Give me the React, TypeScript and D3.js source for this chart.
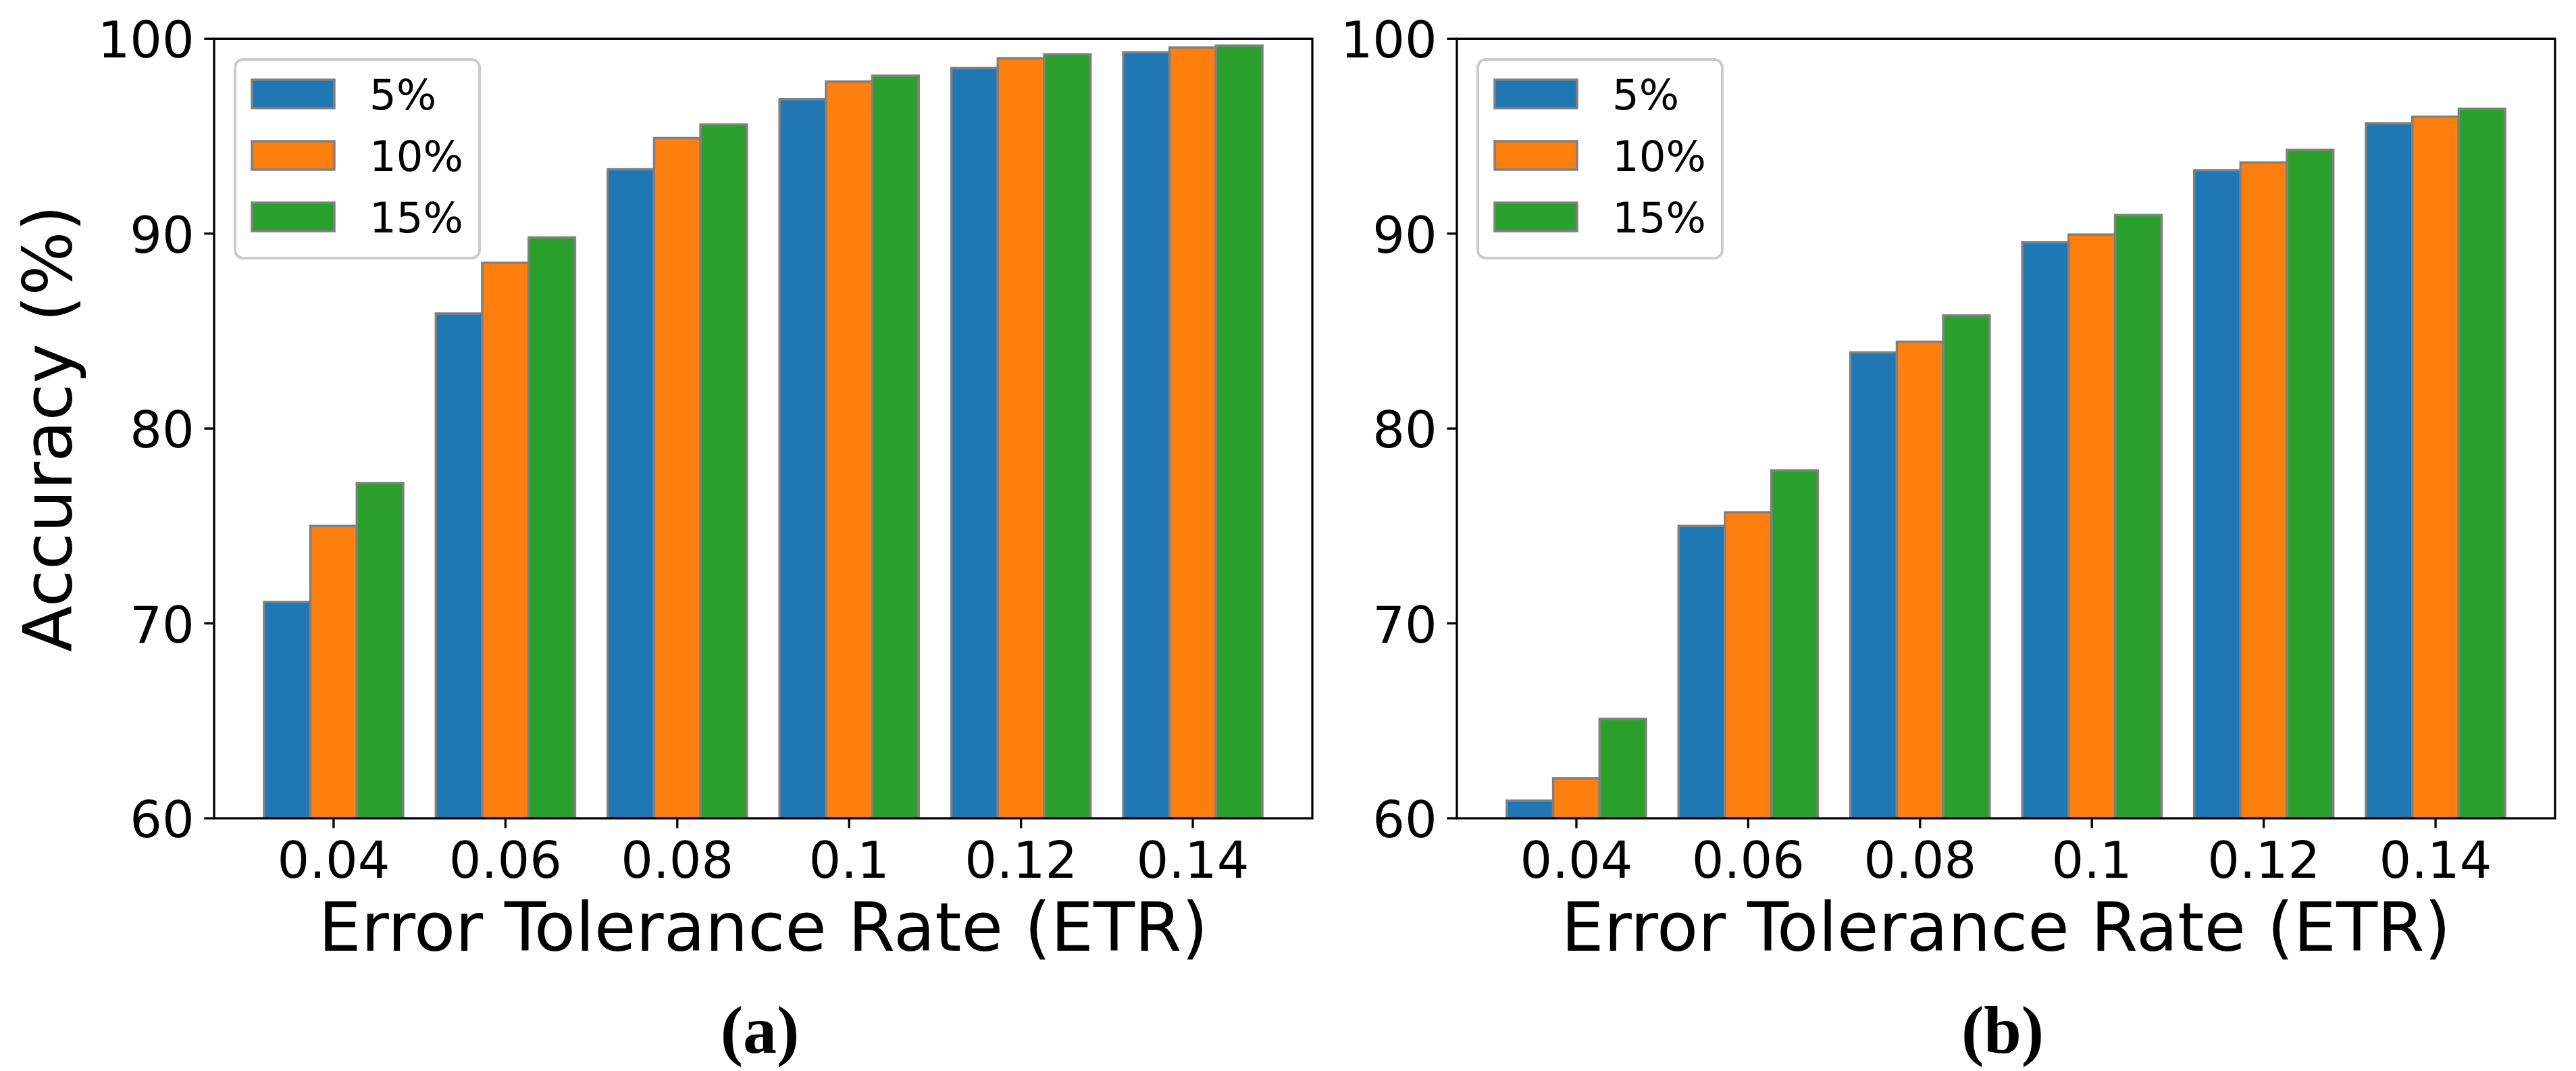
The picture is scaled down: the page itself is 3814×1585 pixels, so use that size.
import React from "react";
import * as d3 from "d3";

const categories = ["0.04", "0.06", "0.08", "0.1", "0.12", "0.14"];
const seriesLabels = ["5%", "10%", "15%"];
const seriesColors = ["#1f77b4", "#ff7f0e", "#2ca02c"];
const yTicks = [60, 70, 80, 90, 100];

const panelA_5 = [71.1, 85.9, 93.3, 96.9, 98.5, 99.3];
const panelA_10 = [75.0, 88.5, 94.9, 97.8, 99.0, 99.55];
const panelA_15 = [77.2, 89.8, 95.6, 98.1, 99.2, 99.65];

const panelB_5 = [60.9, 75.0, 83.9, 89.55, 93.25, 95.65];
const panelB_10 = [62.05, 75.7, 84.45, 89.95, 93.65, 96.0];
const panelB_15 = [65.1, 77.85, 85.8, 90.95, 94.3, 96.4];

const panelTags = ["(a)", "(b)"];
const xLabel = "Error Tolerance Rate (ETR)";
const yLabel = "Accuracy (%)";

const W = 3814;
const H = 1585;
const TOP = 57.3;
const BOTTOM = 1211;
const BAR_W = 0.27;
const TICK_FONT = 75;
const LABEL_FONT = 100;
const LEGEND_FONT = 62.5;
const SANS = "'DejaVu Sans', sans-serif";
const LW = 3.3;
const TICK_LEN = 14.6;

function Panel({ left, right, data, idx, showYLabel }: any) {
  const lo = -1.5 * BAR_W;
  const hi = categories.length - 1 + 1.5 * BAR_W;
  const pad = 0.05 * (hi - lo);
  const x = d3.scaleLinear().domain([lo - pad, hi + pad]).range([left, right]);
  const y = d3.scaleLinear().domain([60, 100]).range([BOTTOM, TOP]);
  const clipId = `clip-${idx}`;
  const cx = (left + right) / 2;
  const legX = left + 31;
  const legY = 88;
  return (
    <g>
      <defs>
        <clipPath id={clipId}>
          <rect x={left} y={TOP} width={right - left} height={BOTTOM - TOP} />
        </clipPath>
      </defs>
      <g clipPath={`url(#${clipId})`}>
        {data.map((vals: number[], j: number) =>
          vals.map((v, i) => {
            const x0 = x(i + (j - 1) * BAR_W - BAR_W / 2);
            const x1 = x(i + (j - 1) * BAR_W + BAR_W / 2);
            return (
              <rect
                key={`${j}-${i}`}
                x={x0}
                y={y(v)}
                width={x1 - x0}
                height={BOTTOM + 10 - y(v)}
                fill={seriesColors[j]}
                stroke="#808080"
                strokeWidth={3.5}
              />
            );
          })
        )}
      </g>
      {/* spines */}
      <rect x={left} y={TOP} width={right - left} height={BOTTOM - TOP} fill="none" stroke="#000" strokeWidth={LW} />
      {/* y ticks */}
      {yTicks.map((t) => (
        <g key={t}>
          <line x1={left - TICK_LEN} x2={left} y1={y(t)} y2={y(t)} stroke="#000" strokeWidth={LW} />
          <text x={left - TICK_LEN - 14.6} y={y(t) + 28} textAnchor="end" fontFamily={SANS} fontSize={TICK_FONT}>
            {t}
          </text>
        </g>
      ))}
      {/* x ticks */}
      {categories.map((c, i) => (
        <g key={c}>
          <line x1={x(i)} x2={x(i)} y1={BOTTOM} y2={BOTTOM + TICK_LEN} stroke="#000" strokeWidth={LW} />
          <text x={x(i)} y={BOTTOM + 88} textAnchor="middle" fontFamily={SANS} fontSize={TICK_FONT}>
            {c}
          </text>
        </g>
      ))}
      <text x={cx} y={1407} textAnchor="middle" fontFamily={SANS} fontSize={LABEL_FONT}>
        {xLabel}
      </text>
      {showYLabel && (
        <text
          transform={`translate(106, ${(TOP + BOTTOM) / 2}) rotate(-90)`}
          textAnchor="middle"
          fontFamily={SANS}
          fontSize={LABEL_FONT}
        >
          {yLabel}
        </text>
      )}
      <text
        x={cx - 5}
        y={1558}
        textAnchor="middle"
        fontFamily="'Liberation Serif', 'Times New Roman', serif"
        fontWeight="bold"
        fontSize={100}
      >
        {panelTags[idx]}
      </text>
      {/* legend */}
      <g>
        <rect
          x={legX}
          y={legY}
          width={362}
          height={294}
          rx={12}
          ry={12}
          fill="#fff"
          fillOpacity={0.8}
          stroke="#cccccc"
          strokeWidth={4}
        />
        {seriesLabels.map((s, j) => {
          const rowC = 139 + j * 91;
          return (
            <g key={s}>
              <rect
                x={legX + 25}
                y={rowC - 21}
                width={122}
                height={42}
                fill={seriesColors[j]}
                stroke="#808080"
                strokeWidth={3.5}
              />
              <text x={legX + 199} y={rowC + 22.5} fontFamily={SANS} fontSize={LEGEND_FONT}>
                {s}
              </text>
            </g>
          );
        })}
      </g>
    </g>
  );
}

export default function App() {
  const panels = [
    { left: 317, right: 1943, data: [panelA_5, panelA_10, panelA_15] },
    { left: 2157, right: 3783, data: [panelB_5, panelB_10, panelB_15] },
  ];
  return (
    <svg
      width={W}
      height={H}
      viewBox={`0 0 ${W} ${H}`}
      style={{ position: "absolute", left: 0, top: 0, background: "#fff" }}
    >
      <rect x={0} y={0} width={W} height={H} fill="#fff" />
      {panels.map((p, i) => (
        <Panel key={i} left={p.left} right={p.right} data={p.data} idx={i} showYLabel={i === 0} />
      ))}
    </svg>
  );
}
